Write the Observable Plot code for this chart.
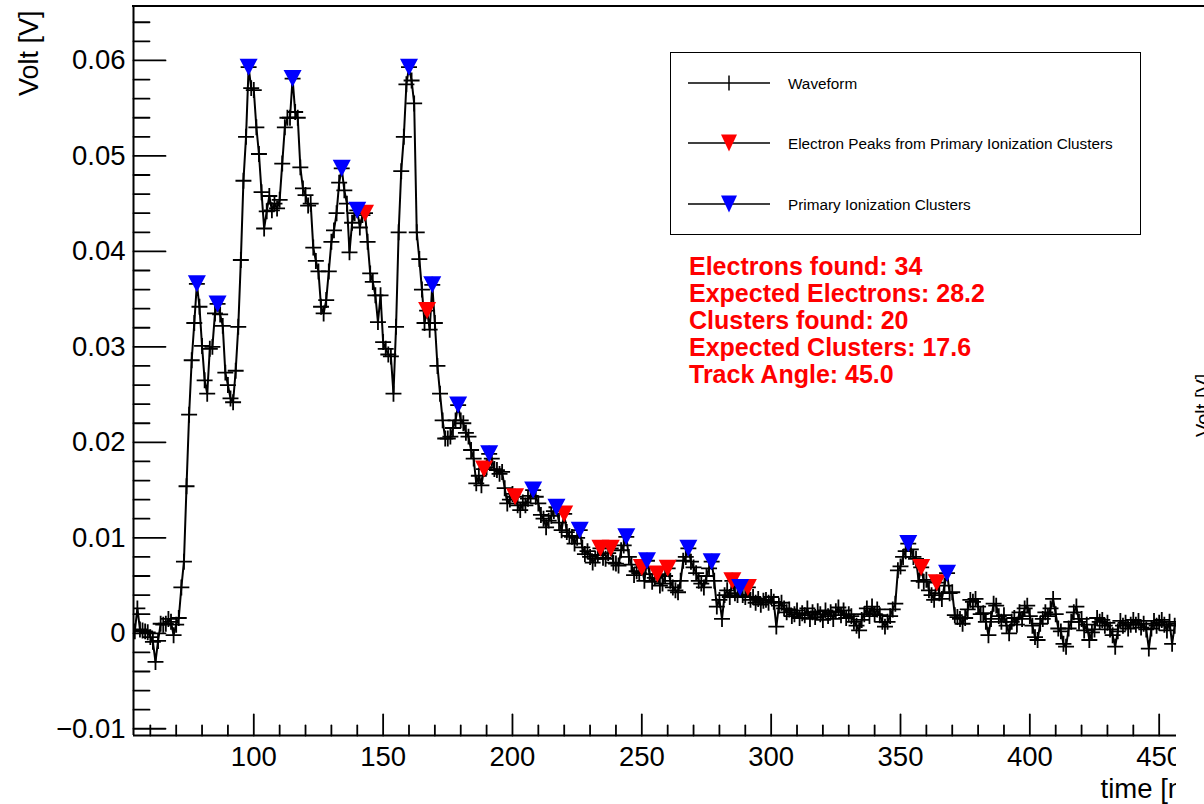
<!DOCTYPE html>
<html>
<head>
<meta charset="utf-8">
<script src="https://cdn.jsdelivr.net/npm/d3@7"></script>
<script src="https://cdn.jsdelivr.net/npm/@observablehq/plot@0.6"></script>
<style>
  html, body { margin: 0; padding: 0; background: #fff; width: 1204px; height: 804px; overflow: hidden;
    font-family: "Liberation Sans", Arial, Helvetica, sans-serif; }
  #page { position: relative; width: 1204px; height: 804px; }
  #clip { position: absolute; left: 0; top: 0; width: 1176px; height: 804px; overflow: hidden; }
  #clip svg { max-width: none !important; width: 1204px; height: 804px; }
  #topline { position: absolute; left: 132px; top: 5px; width: 1072px; height: 2px; background: #000; }
  #legend { position: absolute; left: 670px; top: 52px; width: 471px; height: 183px; box-sizing: border-box;
    border: 1.5px solid #000; background: #fff; }
  .lrow-sym { position: absolute; left: 688px; width: 83px; height: 20px; }
  .lrow-txt { position: absolute; left: 788px; height: 20px; line-height: 20px; font-size: 15.3px; color: #000; white-space: nowrap; }
  #stats { position: absolute; left: 689px; top: 253px; font-weight: bold; font-size: 25px; line-height: 27px; color: #ff0000; white-space: nowrap; }
  #stray { position: absolute; left: 0; top: 0; pointer-events: none; }
</style>
</head>
<body>
<div id="page">
  <div id="clip"></div>
  <div id="topline"></div>
  <div id="legend"></div>
  <div id="legendItems"></div>
  <div id="stats"></div>
  <svg id="stray" width="1204" height="804"></svg>
</div>
<script>
// ---------- data ----------
// waveform: one sample per ns, first sample at t = 54 ns; values in mV
const waveformStart = 54;
const waveformMilliVolt = [
  /*54*/  0.2, 2.6, 0.4, 0.3, 0.2, 0.1, -0.4, -0.9, -3.0, -0.8,
  /*64*/  1.0, 0.9, 1.0, 1.5, 1.2, -0.2, 0.9, 1.6, 4.8, 7.5,
  /*74*/  15.4, 22.9, 28.6, 32.5, 36.6, 34.2, 30.1, 26.5, 25.1, 29.8,
  /*84*/  30.0, 33.5, 34.5, 33.4, 32.2, 27.3, 26.0, 24.6, 24.2, 27.5,
  /*94*/  32.1, 39.1, 47.4, 52.0, 59.3, 57.1, 56.9, 53.0, 50.2, 46.2,
  /*104*/ 42.4, 44.2, 45.8, 44.3, 45.0, 44.5, 45.4, 49.2, 53.0, 54.0,
  /*114*/ 54.0, 58.1, 54.6, 54.0, 48.8, 46.6, 45.9, 44.8, 45.0, 40.4,
  /*124*/ 39.0, 37.9, 34.2, 33.5, 34.9, 37.9, 41.0, 42.2, 44.0, 47.2,
  /*134*/ 48.7, 46.4, 45.0, 39.9, 43.0, 44.0, 44.3, 42.5, 43.8, 44.0,
  /*144*/ 41.0, 37.7, 36.8, 35.4, 32.6, 35.4, 30.5, 29.8, 29.2, 29.0,
  /*154*/ 25.1, 32.1, 42.0, 48.4, 52.0, 57.5, 59.3, 57.9, 55.5, 42.0,
  /*164*/ 39.2, 36.0, 32.5, 33.8, 31.8, 36.5, 32.5, 28.0, 25.1, 22.3,
  /*174*/ 20.4, 20.4, 20.6, 21.5, 22.3, 23.9, 22.3, 22.0, 21.0, 20.6,
  /*184*/ 19.2, 18.3, 15.7, 16.5, 15.5, 17.2, 17.4, 18.8, 18.3, 17.2,
  /*194*/ 17.1, 16.7, 16.9, 15.2, 13.6, 14.0, 14.6, 14.3, 13.4, 12.9,
  /*204*/ 13.7, 13.4, 14.1, 14.4, 15.0, 14.3, 13.6, 12.4, 12.0, 11.1,
  /*214*/ 11.8, 12.3, 12.8, 13.2, 11.6, 10.8, 12.5, 10.6, 10.2, 10.1,
  /*224*/ 9.4, 10.0, 10.8, 9.0, 8.3, 8.6, 8.0, 7.4, 7.8, 8.2,
  /*234*/ 8.9, 7.9, 7.8, 8.4, 8.9, 7.4, 7.3, 7.1, 8.7, 9.2,
  /*244*/ 10.1, 8.0, 7.2, 6.1, 6.5, 6.3, 6.9, 5.5, 7.6, 6.2,
  /*254*/ 5.4, 5.8, 6.2, 5.0, 5.2, 6.0, 6.8, 5.5, 4.8, 4.5,
  /*264*/ 4.3, 5.5, 7.6, 8.0, 8.9, 7.5, 6.9, 6.3, 5.5, 5.2,
  /*274*/ 4.8, 6.0, 6.8, 7.5, 5.5, 2.8, 3.5, 1.5, 4.0, 4.5,
  /*284*/ 3.8, 5.5, 4.2, 4.0, 4.8, 4.0, 3.8, 4.8, 3.5, 3.8,
  /*294*/ 3.2, 3.6, 3.0, 3.4, 3.5, 3.2, 3.8, 3.3, 0.7, 2.9,
  /*304*/ 3.2, 2.6, 2.2, 2.5, 1.8, 2.0, 2.4, 1.6, 2.1, 1.9,
  /*314*/ 2.6, 1.5, 2.2, 1.7, 2.3, 2.0, 1.4, 2.4, 1.8, 2.2,
  /*324*/ 1.5, 2.3, 2.7, 1.9, 2.4, 1.6, 2.0, 1.8, 1.2, 0.8,
  /*334*/ 0.3, 1.4, 2.0, 2.6, 1.8, 2.8, 2.0, 2.5, 1.9, 1.2,
  /*344*/ 0.7, 1.2, 1.8, 2.5, 3.1, 6.6, 7.0, 8.0, 8.6, 9.4,
  /*354*/ 8.8, 8.0, 7.8, 5.5, 6.9, 5.4, 5.6, 4.5, 4.0, 3.5,
  /*364*/ 5.3, 4.2, 3.6, 5.0, 6.3, 4.2, 4.3, 1.9, 1.7, 1.5,
  /*374*/ 1.0, 1.6, 2.5, 3.5, 3.3, 3.6, 2.8, 2.0, 2.1, 1.2,
  /*384*/ -0.2, 1.5, 3.1, 2.9, 1.8, 1.2, 1.9, 0.8, 0.0, 1.2,
  /*394*/ 1.6, 0.9, 2.2, 1.5, 2.6, 2.9, 1.8, 0.8, -0.4, -0.7,
  /*404*/ 1.0, 1.5, 2.2, 1.8, 2.6, 3.6, 2.0, 0.5, 0.2, -1.1,
  /*414*/ -1.4, 0.5, 1.2, 2.2, 2.8, 1.2, 1.5, 0.3, 0.9, -0.7,
  /*424*/ 0.1, 0.4, 1.6, 1.2, 1.4, 0.8, 1.1, 0.4, -0.2, -1.4,
  /*434*/ 0.2, 1.3, 0.8, 1.1, 0.5, 0.9, 1.4, 0.9, 1.3, 0.6,
  /*444*/ 1.0, 0.4, -1.6, 0.5, 1.3, 0.8, 1.1, 1.4, 0.9, 0.3,
  /*454*/ 1.2, -1.1, 0.8, 1.0
];

// primary ionization clusters (blue)
const clusterTimes = [78, 86, 98, 115, 134, 140, 160, 169, 179, 191, 208, 217, 226, 244, 252, 268, 277, 288, 353, 368];
const clusterMilliVolt = [36.6, 34.5, 59.3, 58.1, 48.7, 44.3, 59.3, 36.5, 23.9, 18.8, 15.0, 13.2, 10.8, 10.1, 7.6, 8.9, 7.5, 4.8, 9.4, 6.3];

// electron peaks from primary ionization clusters (red)
const electronTimes = [143, 167, 189, 201, 220, 234, 238, 250, 256, 260, 285, 291, 358, 364];
const electronMilliVolt = [44.0, 33.8, 17.2, 14.3, 12.5, 8.9, 8.9, 6.9, 6.2, 6.8, 5.5, 4.8, 6.9, 5.3];

// axes
const xMajorTicks = [100, 150, 200, 250, 300, 350, 400, 450];
const xTickLabels = ["100", "150", "200", "250", "300", "350", "400", "450"];
const yMajorTicks = [-0.01, 0, 0.01, 0.02, 0.03, 0.04, 0.05, 0.06];
const yTickLabels = ["\u22120.01", "0", "0.01", "0.02", "0.03", "0.04", "0.05", "0.06"];
const xDomain = [53.5, 465.2];
const yDomain = [-0.010705, 0.06565];

const legendLabels = ["Waveform", "Electron Peaks from Primary Ionization Clusters", "Primary Ionization Clusters"];
const statsLines = ["Electrons found: 34", "Expected Electrons: 28.2", "Clusters found: 20", "Expected Clusters: 17.6", "Track Angle: 45.0"];

// ---------- build ----------
const times = d3.range(waveformStart, waveformStart + waveformMilliVolt.length);
const wave = waveformMilliVolt.map((v, i) => ({t: times[i], v: v / 1000}));
const clusters = clusterTimes.map((t, i) => ({t, v: clusterMilliVolt[i] / 1000}));
const electrons = electronTimes.map((t, i) => ({t, v: electronMilliVolt[i] / 1000}));

const xMinorTicks = d3.range(60, 470, 10).filter(d => d % 50 !== 0);
const yMinorTicks = d3.range(-5, 33).map(k => k * 0.002).filter(d => Math.abs(Math.round(d * 1000)) % 10 !== 0);

const xLabel = new Map(xMajorTicks.map((d, i) => [d, xTickLabels[i]]));
const yLabel = new Map(yMajorTicks.map((d, i) => [d.toFixed(3), yTickLabels[i]]));

const tickShape = {draw(context, l) { context.moveTo(0, 0); context.lineTo(0, -l); }};
const downTriangle = {draw(context) { context.moveTo(-9, -8.5); context.lineTo(9, -8.5); context.lineTo(0, 8.5); context.closePath(); }};

const FONT = '"Liberation Sans", Arial, Helvetica, sans-serif';

const chart = Plot.plot({
  width: 1204,
  height: 804,
  marginLeft: 133,
  marginRight: 6,
  marginTop: 6,
  marginBottom: 69,
  x: {type: "linear", domain: xDomain},
  y: {type: "linear", domain: yDomain},
  style: {fontFamily: FONT, background: "white", color: "black", maxWidth: "none"},
  marks: [
    // frame lines
    Plot.ruleX([xDomain[0]], {stroke: "black", strokeWidth: 2}),
    Plot.ruleY([yDomain[0]], {stroke: "black", strokeWidth: 2}),
    // ticks (inside)
    Plot.vector(yMajorTicks, {y: d => d, frameAnchor: "left", length: 32, rotate: 90, anchor: "start", shape: tickShape, stroke: "black", strokeWidth: 1.8}),
    Plot.vector(yMinorTicks, {y: d => d, frameAnchor: "left", length: 16, rotate: 90, anchor: "start", shape: tickShape, stroke: "black", strokeWidth: 1.8}),
    Plot.vector(xMajorTicks, {x: d => d, frameAnchor: "bottom", length: 21, rotate: 0, anchor: "start", shape: tickShape, stroke: "black", strokeWidth: 1.8}),
    Plot.vector(xMinorTicks, {x: d => d, frameAnchor: "bottom", length: 10, rotate: 0, anchor: "start", shape: tickShape, stroke: "black", strokeWidth: 1.8}),
    // tick labels
    Plot.axisY(yMajorTicks, {anchor: "left", tickSize: 0, tickPadding: 8, tickFormat: d => yLabel.get(d.toFixed(3)), fontSize: 27.5, label: null}),
    Plot.axisX(xMajorTicks, {anchor: "bottom", tickSize: 0, tickPadding: 10.5, tickFormat: d => xLabel.get(d), fontSize: 27.5, label: null}),
    // axis titles
    Plot.text(["Volt [V]"], {text: d => d, frameAnchor: "top-left", rotate: -90, textAnchor: "end", lineAnchor: "middle", dx: -104.6, dy: 4, fontSize: 27, fill: "black"}),
    Plot.text(["time [ns]"], {text: d => d, frameAnchor: "bottom-right", textAnchor: "end", lineAnchor: "middle", dx: 6, dy: 53.2, fontSize: 27.5, fill: "black"}),
    // waveform
    Plot.line(wave, {x: "t", y: "v", stroke: "black", strokeWidth: 2, clip: true}),
    Plot.dot(wave, {x: "t", y: "v", symbol: "plus", r: 5.2, stroke: "black", strokeWidth: 1.8, clip: true}),
    // peaks
    Plot.dot(electrons, {x: "t", y: "v", symbol: downTriangle, fill: "#ff0000", stroke: "none"}),
    Plot.dot(clusters, {x: "t", y: "v", symbol: downTriangle, fill: "#0000ff", stroke: "none"})
  ]
});
chart.style.maxWidth = "none";
document.getElementById("clip").appendChild(chart);

// ---------- legend ----------
const rowsY = [83, 143, 204];
const legendSyms = [
  '<line x1="0" y1="10" x2="82" y2="10" stroke="#000" stroke-width="1.5"/><line x1="41" y1="2.5" x2="41" y2="17.5" stroke="#000" stroke-width="1.5"/>',
  '<line x1="0" y1="10" x2="82" y2="10" stroke="#000" stroke-width="1.5"/><path d="M33,1.5L49,1.5L41,18.5Z" fill="#ff0000"/>',
  '<line x1="0" y1="10" x2="82" y2="10" stroke="#000" stroke-width="1.5"/><path d="M33,1.5L49,1.5L41,18.5Z" fill="#0000ff"/>'
];
const items = document.getElementById("legendItems");
legendLabels.forEach((lab, i) => {
  const s = document.createElementNS("http://www.w3.org/2000/svg", "svg");
  s.setAttribute("class", "lrow-sym");
  s.setAttribute("width", "83"); s.setAttribute("height", "20");
  s.style.top = (rowsY[i] - 10) + "px";
  s.innerHTML = legendSyms[i];
  items.appendChild(s);
  const t = document.createElement("div");
  t.className = "lrow-txt";
  t.style.top = (rowsY[i] - 9) + "px";
  t.textContent = lab;
  items.appendChild(t);
});

// ---------- stats text ----------
const stats = document.getElementById("stats");
statsLines.forEach(line => { const d = document.createElement("div"); d.textContent = line; stats.appendChild(d); });

// ---------- neighbouring pad's cut-off axis title ----------
const stray = document.getElementById("stray");
stray.innerHTML = '<text transform="translate(1210,437) rotate(-90)" font-family=\'' + FONT + '\' font-size="20" fill="#000">Volt [V]</text>';
</script>
</body>
</html>
